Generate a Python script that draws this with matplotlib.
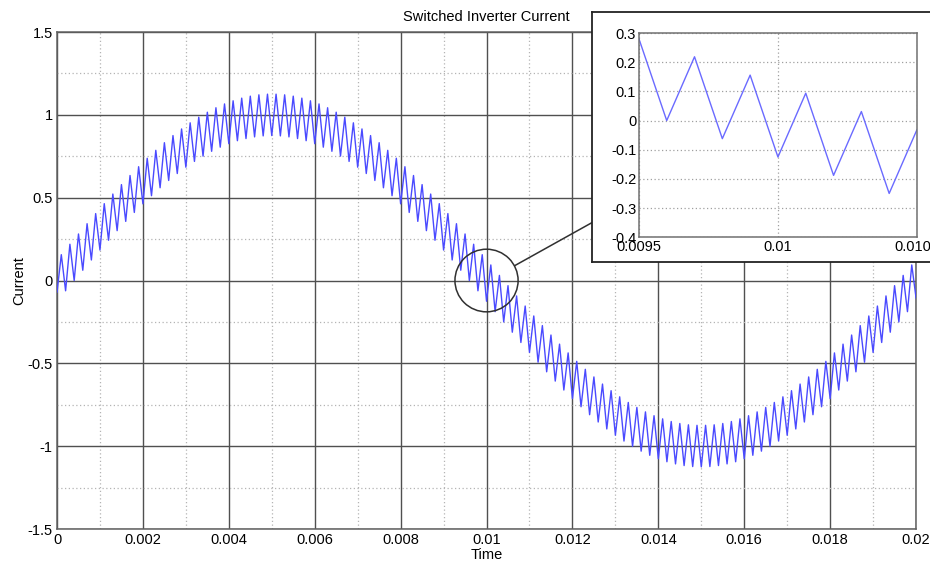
import numpy as np
import matplotlib
matplotlib.use("Agg")
import matplotlib.pyplot as plt
from matplotlib.patches import Ellipse, ConnectionPatch

plt.rcParams['font.family'] = ['Liberation Sans', 'DejaVu Sans']

# switching vertices, one every 0.1 ms (troughs at even steps, peaks at odd steps)
step = 0.0001
troughs = [-0.070, -0.062, 0.000, 0.062, 0.124, 0.184, 0.243, 0.301, 0.357, 0.411,
           0.463, 0.512, 0.560, 0.604, 0.646, 0.684, 0.719, 0.751, 0.780, 0.805,
           0.826, 0.844, 0.857, 0.867, 0.873, 0.875, 0.873, 0.867, 0.857, 0.844,
           0.826, 0.805, 0.780, 0.751, 0.719, 0.684, 0.646, 0.604, 0.560, 0.512,
           0.463, 0.411, 0.357, 0.301, 0.243, 0.184, 0.124, 0.062, 0.000, -0.062,
           -0.125, -0.188, -0.250, -0.312, -0.374, -0.434, -0.493, -0.551, -0.607, -0.661,
           -0.713, -0.762, -0.810, -0.854, -0.896, -0.934, -0.969, -1.001, -1.030, -1.055,
           -1.076, -1.094, -1.107, -1.117, -1.123, -1.125, -1.123, -1.117, -1.107, -1.094,
           -1.076, -1.055, -1.030, -1.001, -0.969, -0.934, -0.896, -0.854, -0.810, -0.762,
           -0.713, -0.661, -0.607, -0.551, -0.493, -0.434, -0.374, -0.312, -0.250, -0.188,
           -0.105]
peaks = [0.156, 0.219, 0.281, 0.343, 0.404, 0.464, 0.522, 0.579, 0.634, 0.687,
         0.738, 0.786, 0.832, 0.875, 0.915, 0.952, 0.986, 1.016, 1.043, 1.066,
         1.085, 1.101, 1.113, 1.121, 1.125, 1.125, 1.121, 1.113, 1.101, 1.085,
         1.066, 1.043, 1.016, 0.986, 0.952, 0.915, 0.875, 0.832, 0.786, 0.738,
         0.687, 0.634, 0.579, 0.522, 0.464, 0.404, 0.343, 0.281, 0.219, 0.156,
         0.094, 0.031, -0.031, -0.093, -0.154, -0.214, -0.272, -0.329, -0.384, -0.437,
         -0.488, -0.536, -0.582, -0.625, -0.665, -0.702, -0.736, -0.766, -0.793, -0.816,
         -0.835, -0.851, -0.863, -0.871, -0.874, -0.874, -0.871, -0.863, -0.851, -0.835,
         -0.816, -0.793, -0.766, -0.736, -0.702, -0.665, -0.625, -0.582, -0.536, -0.488,
         -0.437, -0.384, -0.329, -0.272, -0.214, -0.154, -0.093, -0.031, 0.031, 0.094]

xticks = [0, 0.002, 0.004, 0.006, 0.008, 0.01, 0.012, 0.014, 0.016, 0.018, 0.02]
xtick_labels = ['0', '0.002', '0.004', '0.006', '0.008', '0.01', '0.012', '0.014',
                '0.016', '0.018', '0.02']
yticks = [-1.5, -1, -0.5, 0, 0.5, 1, 1.5]
ytick_labels = ['-1.5', '-1', '-0.5', '0', '0.5', '1', '1.5']

zoom_xticks = [0.0095, 0.01, 0.0105]
zoom_xtick_labels = ['0.0095', '0.01', '0.0105']
zoom_yticks = [-0.4, -0.3, -0.2, -0.1, 0, 0.1, 0.2, 0.3]
zoom_ytick_labels = ['-0.4', '-0.3', '-0.2', '-0.1', '0', '0.1', '0.2', '0.3']

y = np.empty(len(troughs) + len(peaks))
y[0::2] = troughs
y[1::2] = peaks
t = np.arange(len(y)) * step

fig = plt.figure(figsize=(9.3, 5.62), dpi=100)
ax = fig.add_axes([0.0613, 0.0587, 0.9237, 0.8843])
ax.plot(t, y, color='#4a4aff', lw=1.0, zorder=3)
ax.set_xlim(0, 0.02)
ax.set_ylim(-1.5, 1.5)
ax.set_xticks(xticks)
ax.set_xticklabels(xtick_labels)
ax.set_yticks(yticks)
ax.set_yticklabels(ytick_labels)
ax.set_xticks(np.arange(0.001, 0.02, 0.002), minor=True)
ax.set_yticks(np.arange(-1.25, 1.5, 0.5), minor=True)
ax.grid(which='major', color='#505050', lw=1.0, ls='-')
ax.grid(which='minor', color='#b4b4b4', lw=0.9, ls=(0, (1, 2)))
ax.tick_params(which='both', length=0, labelsize=10.5, pad=3)
for s in ax.spines.values():
    s.set_color('#606060')
    s.set_linewidth(1.1)
ax.set_title('Switched Inverter Current', fontsize=10.5, pad=8)
ax.set_xlabel('Time', fontsize=10.5, labelpad=0.5)
ax.set_ylabel('Current', fontsize=10.5, labelpad=1)

# circle around the zoomed region
cw, ch = 0.00147, 0.378
ax.add_patch(Ellipse((0.01, 0), cw, ch, fill=False, ec='#303030', lw=1.1, zorder=5))

# frame behind the inset (like a pasted figure window)
frame = fig.add_axes([0.6366, 0.5338, 0.5, 0.444], zorder=2)
frame.set_xticks([])
frame.set_yticks([])
for s in frame.spines.values():
    s.set_color('#222222')
    s.set_linewidth(1.3)

ang = np.deg2rad(28)
con = ConnectionPatch(xyA=(0.01 + cw / 2 * np.cos(ang), ch / 2 * np.sin(ang)), coordsA=ax.transData,
                      xyB=(0, 0.158), coordsB=frame.transAxes, color='#303030', lw=1.1)
fig.add_artist(con)

ins = fig.add_axes([0.687, 0.578, 0.299, 0.363], zorder=3)
ins.plot(t, y, color='#6a6aff', lw=1.0)
ins.set_xlim(0.0095, 0.0105)
ins.set_ylim(-0.4, 0.3)
ins.set_xticks(zoom_xticks)
ins.set_xticklabels(zoom_xtick_labels)
ins.set_yticks(zoom_yticks)
ins.set_yticklabels(zoom_ytick_labels)
ins.grid(color='#a0a0a0', lw=0.9, ls=(0, (1, 2)))
ins.tick_params(length=0, labelsize=10.5, pad=2)
for s in ins.spines.values():
    s.set_color('#707070')
    s.set_linewidth(1.1)

fig.savefig('out.png', dpi=100)
